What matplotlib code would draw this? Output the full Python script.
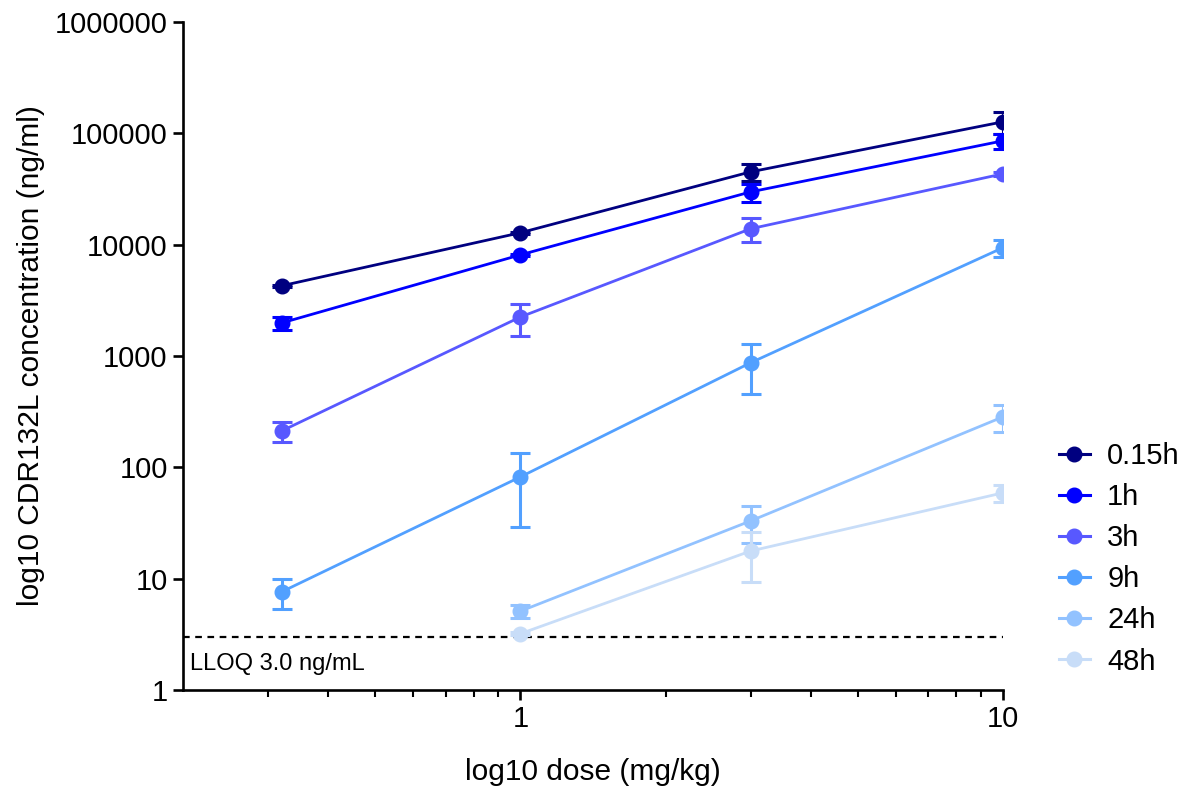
import numpy as np
import matplotlib
matplotlib.use('Agg')
import matplotlib.pyplot as plt
from matplotlib.lines import Line2D
from matplotlib.ticker import FixedLocator, FuncFormatter, NullFormatter, NullLocator

plt.rcParams['font.family'] = ['Liberation Sans', 'DejaVu Sans']

# dose (mg/kg) and concentration (ng/ml) per time point, mean and error
doses = [0.32, 1, 3, 10]
labels = ['0.15h', '1h', '3h', '9h', '24h', '48h']
colors = ['#000080', '#0000FF', '#5858FF', '#52A0FF', '#92C2FF', '#C8DDF8']

conc_015h = [4270, 12800, 45100, 127000]
err_015h = [80, 200, 8000, 28000]
conc_1h = [1980, 8100, 29800, 85700]
err_1h = [270, 150, 5400, 13000]
conc_3h = [212, 2240, 13900, 43300]
err_3h = [42, 720, 3400, 1500]
conc_9h = [7.6, 82, 870, 9400]
err_9h = [2.3, 53, 410, 1600]
conc_24h = [np.nan, 5.1, 33, 284]
err_24h = [np.nan, 0.7, 12, 78]
conc_48h = [np.nan, 3.2, 17.7, 59]
err_48h = [np.nan, 0.1, 8.4, 10]

series = [conc_015h, conc_1h, conc_3h, conc_9h, conc_24h, conc_48h]
errors = [err_015h, err_1h, err_3h, err_9h, err_24h, err_48h]

lloq = 3.0

fig = plt.figure(figsize=(11.86, 7.87), dpi=100)
ax = fig.add_axes([0.1543, 0.1233, 0.6914, 0.8487])

handles = []
for lab, col, y, e in zip(labels, colors, series, errors):
    x = np.array(doses)
    y = np.array(y)
    e = np.array(e)
    ok = ~np.isnan(y)
    ax.errorbar(x[ok], y[ok], yerr=e[ok], color=col, lw=2, marker='o', ms=10.5,
                capsize=7, capthick=2.2, elinewidth=2.2, zorder=3)
    handles.append(Line2D([], [], color=col, lw=2.2, marker='o', ms=10.5, label=lab))

ax.axhline(lloq, color='black', ls=(0, (3, 2.5)), lw=1.6, zorder=2)
ax.text(0.207, 1.72, 'LLOQ 3.0 ng/mL', fontsize=17, va='center', ha='left')

ax.set_xscale('log')
ax.set_yscale('log')
ax.set_xlim(0.2, 10)
ax.set_ylim(1, 1000000)

ax.xaxis.set_major_locator(FixedLocator([1, 10]))
ax.xaxis.set_major_formatter(FuncFormatter(lambda v, p: '%g' % v))
ax.xaxis.set_minor_locator(FixedLocator([0.3, 0.4, 0.5, 0.6, 0.7, 0.8, 0.9,
                                         2, 3, 4, 5, 6, 7, 8, 9]))
ax.xaxis.set_minor_formatter(NullFormatter())
ax.yaxis.set_major_locator(FixedLocator([1, 10, 100, 1000, 10000, 100000, 1000000]))
ax.yaxis.set_major_formatter(FuncFormatter(lambda v, p: '%d' % v))
ax.yaxis.set_minor_locator(NullLocator())

for s in ['top', 'right']:
    ax.spines[s].set_visible(False)
for s in ['left', 'bottom']:
    ax.spines[s].set_linewidth(1.9)
ax.tick_params(which='major', length=7, width=1.9, labelsize=21, pad=4)
ax.tick_params(which='minor', length=5, width=1.5)

ax.set_xlabel('log10 dose (mg/kg)', fontsize=21.5, labelpad=18)
ax.set_ylabel('log10 CDR132L concentration (ng/ml)', fontsize=21.5, labelpad=7)

fig.legend(handles=handles, loc='center left', bbox_to_anchor=(0.893, 0.29),
           frameon=False, fontsize=21, handlelength=1.05, handletextpad=0.6,
           labelspacing=0.45, borderpad=0, borderaxespad=0)

fig.savefig('out.png', dpi=100)
